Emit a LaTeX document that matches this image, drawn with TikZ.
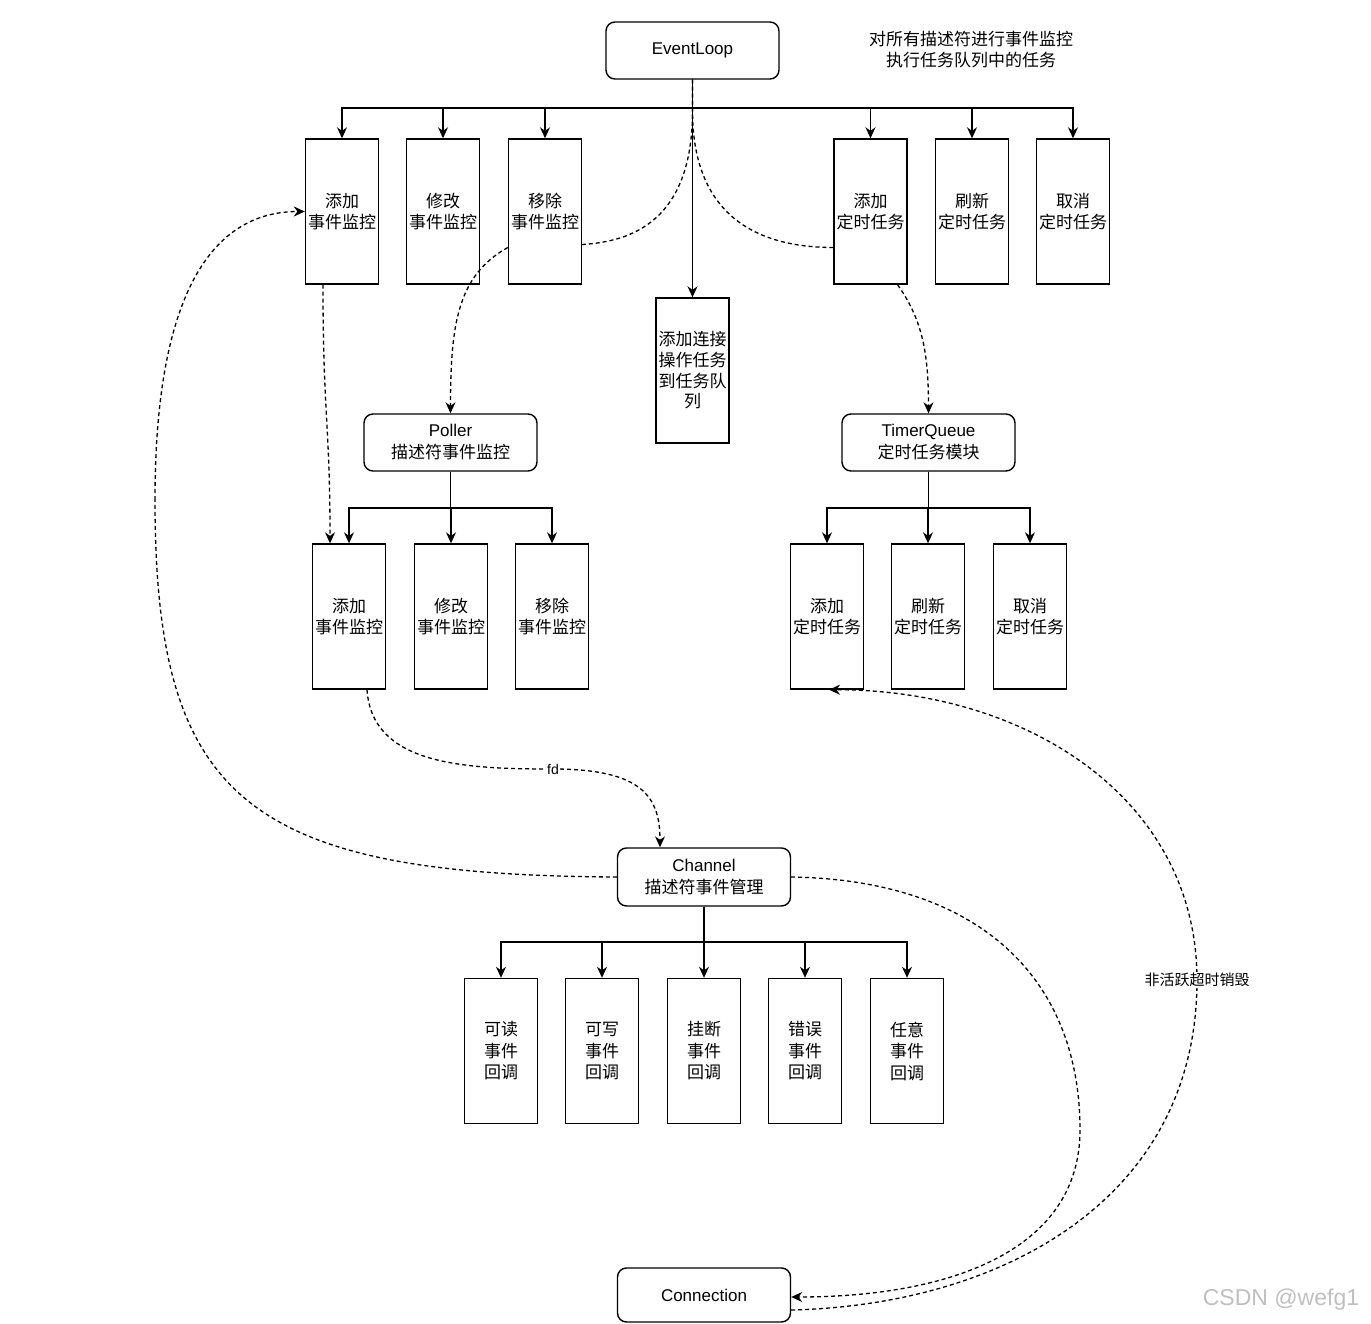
\documentclass[tikz,border=0pt]{standalone}
\usepackage{fontspec}
\setmainfont{Liberation Sans}
\newfontfamily\cjk{Noto Sans CJK SC}
\usetikzlibrary{arrows.meta,calc}
\begin{document}
\begin{tikzpicture}[x=1pt,y=-1pt,
  box/.style={draw, line width=1.4pt, minimum width=73pt, minimum height=145pt, inner sep=0pt, align=center, font=\cjk\fontsize{17}{21.5}\selectfont},
  rbox/.style={draw, rounded corners=9pt, line width=1.4pt, minimum width=173pt, minimum height=57pt, inner sep=0pt, align=center, font=\fontsize{17}{22}\selectfont},
  link/.style={line width=1.4pt, -{Stealth[length=11pt,width=10pt]}},
  dlink/.style={line width=1.3pt, dash pattern=on 4pt off 3pt, -{Stealth[length=11pt,width=10pt]}},
  dline/.style={line width=1.3pt, dash pattern=on 4pt off 3pt},
  lbl/.style={fill=white, inner sep=1pt},
]
\useasboundingbox (0,0) rectangle (1371,1324);

% main nodes
\node[rbox] (EL) at (692.5,50.5) {EventLoop};
\node[align=center, font=\cjk\fontsize{17}{21}\selectfont] (note) at (971,50) {对所有描述符进行事件监控\\执行任务队列中的任务};

\node[box] (a1) at (342,211.5) {添加\\事件监控};
\node[box] (a2) at (443,211.5) {修改\\事件监控};
\node[box] (a3) at (545,211.5) {移除\\事件监控};
\node[box] (t1) at (870.5,211.5) {添加\\定时任务};
\node[box] (t2) at (972,211.5) {刷新\\定时任务};
\node[box] (t3) at (1073,211.5) {取消\\定时任务};
\node[box, font=\cjk\fontsize{17}{20.7}\selectfont] (task) at (692.5,370.5) {添加连接\\操作任务\\到任务队\\列};

\node[rbox] (PL) at (450.5,442.5) {Poller\\{\cjk 描述符事件监控}};
\node[rbox] (TQ) at (928.5,442.5) {TimerQueue\\{\cjk 定时任务模块}};

\node[box] (p1) at (349,616.5) {添加\\事件监控};
\node[box] (p2) at (451,616.5) {修改\\事件监控};
\node[box] (p3) at (552,616.5) {移除\\事件监控};
\node[box] (q1) at (827,616.5) {添加\\定时任务};
\node[box] (q2) at (928,616.5) {刷新\\定时任务};
\node[box] (q3) at (1030,616.5) {取消\\定时任务};

\node[rbox, minimum height=58pt] (CH) at (704,877) {Channel\\{\cjk 描述符事件管理}};

\node[box] (c1) at (501,1051) {可读\\事件\\回调};
\node[box] (c2) at (602,1051) {可写\\事件\\回调};
\node[box] (c3) at (704,1051) {挂断\\事件\\回调};
\node[box] (c4) at (805,1051) {错误\\事件\\回调};
\node[box] (c5) at (907,1051) {任意\\事件\\回调};

\node[rbox, minimum height=54pt] (CN) at (704,1295) {Connection};

\node[text=black!25, font=\fontsize{23}{23}\selectfont] (wm) at (1281,1300) {CSDN @wefg1};

% bus coordinates
\coordinate (b1) at (692.5,108);
\coordinate (b2) at (450.5,508);
\coordinate (b3) at (928.5,508);
\coordinate (b4) at (704,942);

% solid tree connectors
\foreach \n in {a1,a2,a3,t1,t2,t3}{\draw[link] (EL.south) -- (b1) -| (\n.north);}
\draw[link] (EL.south) -- (task.north);
\foreach \n in {p1,p2,p3}{\draw[link] (PL.south) -- (b2) -| (\n.north);}
\foreach \n in {q1,q2,q3}{\draw[link] (TQ.south) -- (b3) -| (\n.north);}
\foreach \n in {c1,c2,c3,c4,c5}{\draw[link] (CH.south) -- (b4) -| (\n.north);}

% dashed connectors
\draw[dline] (EL.south) -- ++(0,31) .. controls +(0,110) and +(50,-3) .. ($(a3.east)+(0,33)$);
\draw[dline] (EL.south) -- ++(0,31) .. controls +(0,110) and +(-70,0) .. ($(t1.west)+(0,36)$);
\draw[dlink] ($(a3.west)+(0,36)$) .. controls +(-50,28) and +(0,-90) .. (PL.north);
\draw[dlink] ($(a1.south)+(-19,0)$) .. controls +(0,130) and +(0,-120) .. ($(p1.north)+(-19,0)$);
\draw[dlink] ($(t1.south)+(27,0)$) .. controls +(25,35) and +(0,-60) .. (TQ.north);

\coordinate (fdpt) at (553,769);
\draw[dline] ($(p1.south)+(18,0)$) .. controls +(5,75) and +(-90,0) .. (fdpt);
\draw[dlink] (fdpt) .. controls +(90,0) and +(0,-50) .. ($(CH.north)+(-44,0)$);
\node[lbl, font=\fontsize{14}{14}\selectfont] (fd) at (fdpt) {fd};

\coordinate (bendL) at (155,500);
\draw[dline] (CH.west) .. controls +(-370,-2) and +(0,300) .. (bendL);
\draw[dlink] (bendL) .. controls +(0,-220) and +(-85,0) .. (a1.west);

\coordinate (bendR) at (1080,1130);
\draw[dline] (CH.east) .. controls +(190,3) and +(0,-150) .. (bendR);
\draw[dlink] (bendR) .. controls +(0,120) and +(160,0) .. ($(CN.east)+(0,2)$);

\coordinate (bendS) at (1197,980);
\draw[dline] ($(CN.east)+(0,15)$) .. controls +(210,-5) and +(0,220) .. (bendS);
\draw[dlink] (bendS) .. controls +(0,-180) and +(200,0) .. ($(q1.south)+(2,0)$);
\node[lbl, font=\cjk\fontsize{15}{15}\selectfont] (kill) at (bendS) {非活跃超时销毁};
\end{tikzpicture}
\end{document}
